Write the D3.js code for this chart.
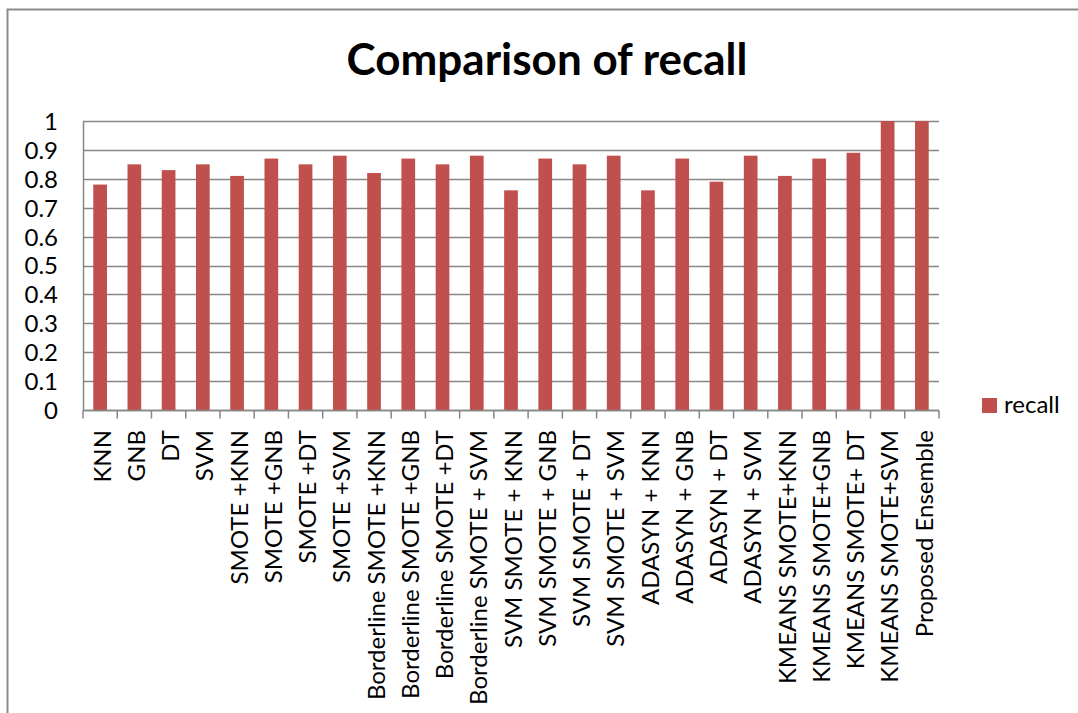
<!DOCTYPE html>
<html>
<head>
<meta charset="utf-8">
<script src="https://cdn.jsdelivr.net/npm/d3@7"></script>
<style>
  html, body { margin: 0; padding: 0; background: #fff; }
  svg { display: block; }
  text { font-family: Lato, "Open Sans", sans-serif; fill: #000; }
</style>
</head>
<body>
<svg id="chart" width="1078" height="713"></svg>
<script>
const categories = [
  "KNN", "GNB", "DT", "SVM",
  "SMOTE +KNN", "SMOTE +GNB", "SMOTE +DT", "SMOTE +SVM",
  "Borderline SMOTE +KNN", "Borderline SMOTE +GNB", "Borderline SMOTE +DT", "Borderline SMOTE + SVM",
  "SVM SMOTE + KNN", "SVM SMOTE + GNB", "SVM SMOTE + DT", "SVM SMOTE + SVM",
  "ADASYN + KNN", "ADASYN + GNB", "ADASYN + DT", "ADASYN + SVM",
  "KMEANS SMOTE+KNN", "KMEANS SMOTE+GNB", "KMEANS SMOTE+ DT", "KMEANS SMOTE+SVM",
  "Proposed Ensemble"
];
const recall = [
  0.78, 0.85, 0.83, 0.85,
  0.81, 0.87, 0.85, 0.88,
  0.82, 0.87, 0.85, 0.88,
  0.76, 0.87, 0.85, 0.88,
  0.76, 0.87, 0.79, 0.88,
  0.81, 0.87, 0.89, 1.0,
  1.0
];
const seriesName = "recall";
const yTicks = [0, 0.1, 0.2, 0.3, 0.4, 0.5, 0.6, 0.7, 0.8, 0.9, 1];
const yTickLabels = ["0", "0.1", "0.2", "0.3", "0.4", "0.5", "0.6", "0.7", "0.8", "0.9", "1"];
const titleText = "Comparison of recall";

const svg = d3.select("#chart");
const W = 1078, H = 713;
const plot = { left: 83, top: 121, right: 939, bottom: 410 };
const barColor = "#c0504d";
const gridColor = "#868686";

// outer chart border (extends beyond the visible area at right/bottom)
svg.append("rect")
  .attr("x", 7.5).attr("y", 9.5)
  .attr("width", W + 20).attr("height", H + 20)
  .attr("fill", "none").attr("stroke", "#8c8c8c").attr("stroke-width", 2);

const x = d3.scaleBand().domain(categories)
  .range([plot.left, plot.right]).paddingInner(0.6).paddingOuter(0.3);
const xb = d3.scaleBand().domain(categories).range([plot.left, plot.right]);
const y = d3.scaleLinear().domain([0, 1]).range([plot.bottom, plot.top]);

// gridlines
svg.append("g").selectAll("line").data(yTicks).join("line")
  .attr("x1", plot.left).attr("x2", plot.right)
  .attr("y1", d => Math.round(y(d)) + 0.5).attr("y2", d => Math.round(y(d)) + 0.5)
  .attr("stroke", gridColor).attr("stroke-width", 1.3);

// bars
svg.append("g").selectAll("rect").data(categories).join("rect")
  .attr("x", d => x(d))
  .attr("width", x.bandwidth())
  .attr("y", (d, i) => y(recall[i]))
  .attr("height", (d, i) => y(0) - y(recall[i]))
  .attr("fill", barColor);

// y axis
const yAxis = d3.axisLeft(y).tickValues(yTicks)
  .tickFormat((d, i) => yTickLabels[i]).tickSize(0).tickPadding(25);
const gy = svg.append("g").attr("transform", `translate(${plot.left},0)`).call(yAxis);
gy.select(".domain").attr("stroke", gridColor).attr("stroke-width", 1.5);
gy.selectAll("text").style("font-size", "24px").attr("dy", "0.35em");

// x axis with ticks at band boundaries
const gx = svg.append("g").attr("transform", `translate(0,${plot.bottom + 0.5})`);
gx.append("line").attr("x1", plot.left).attr("x2", plot.right)
  .attr("stroke", gridColor).attr("stroke-width", 1.5);
const boundaries = categories.map(c => xb(c)).concat([plot.right]);
gx.selectAll("line.tick").data(boundaries).join("line").attr("class", "tick")
  .attr("x1", d => d).attr("x2", d => d).attr("y1", 0).attr("y2", 8)
  .attr("stroke", gridColor).attr("stroke-width", 1.5);

svg.append("g").selectAll("text").data(categories).join("text")
  .attr("transform", d => `translate(${xb(d) + xb.bandwidth() / 2 + 2},430) rotate(-90)`)
  .attr("text-anchor", "end")
  .attr("dy", "0.36em")
  .style("font-size", "24px")
  .text(d => d);

// title
svg.append("text")
  .attr("x", 547).attr("y", 75)
  .attr("text-anchor", "middle")
  .style("font-size", "44px").style("font-weight", "bold")
  .text(titleText);

// legend
svg.append("rect").attr("x", 982).attr("y", 398).attr("width", 15).attr("height", 15).attr("fill", barColor);
svg.append("text").attr("x", 1004).attr("y", 413)
  .style("font-size", "24px").text(seriesName);
</script>
</body>
</html>
